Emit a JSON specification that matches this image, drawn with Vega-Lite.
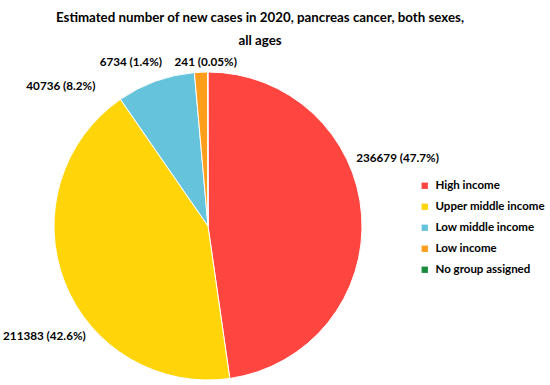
{
  "$schema": "https://vega.github.io/schema/vega-lite/v6.json",
  "width": 416,
  "height": 308,
  "autosize": "none",
  "padding": {"left": 0, "top": 72, "right": 134, "bottom": 5},
  "background": "white",
  "title": {
    "text": ["Estimated number of new cases in 2020, pancreas cancer, both sexes,", "all ages"],
    "font": "Lato",
    "fontSize": 13.3,
    "fontWeight": "bold",
    "color": "#000000",
    "anchor": "middle",
    "frame": "group",
    "dx": 52,
    "offset": 0,
    "dy": 61,
    "lineHeight": 23
  },
  "data": {
    "values": [
      {"group": "High income", "cases": 236679, "label": "236679 (47.7%)", "order": 1},
      {"group": "Upper middle income", "cases": 211383, "label": "211383 (42.6%)", "order": 2},
      {"group": "Low middle income", "cases": 40736, "label": "40736 (8.2%)", "order": 3},
      {"group": "Low income", "cases": 6734, "label": "6734 (1.4%)", "order": 4},
      {"group": "No group assigned", "cases": 241, "label": "241 (0.05%)", "order": 5}
    ]
  },
  "encoding": {
    "theta": {"field": "cases", "type": "quantitative", "stack": true},
    "order": {"field": "order", "type": "quantitative"}
  },
  "layer": [
    {
      "mark": {"type": "arc", "outerRadius": 154, "stroke": "white", "strokeWidth": 1},
      "encoding": {
        "color": {
          "field": "group",
          "type": "nominal",
          "scale": {
            "domain": ["High income", "Upper middle income", "Low middle income", "Low income", "No group assigned"],
            "range": ["#FF4540", "#FFD50A", "#66C3DC", "#FF9E1B", "#1A8A3C"]
          },
          "legend": {
            "title": null,
            "orient": "none",
            "legendX": 419,
            "legendY": 108,
            "padding": 0,
            "symbolType": "square",
            "symbolSize": 40,
            "symbolStrokeWidth": 0,
            "labelFont": "Lato",
            "labelFontSize": 11.5,
            "labelFontWeight": "bold",
            "labelColor": "#000000",
            "labelOffset": 5,
            "rowPadding": 8
          }
        }
      }
    },
    {
      "mark": {"type": "text", "radius": 180, "font": "Lato", "fontSize": 11.7, "fontWeight": "bold", "color": "#000000", "dx": 10, "dy": -55},
      "encoding": {"text": {"condition": {"test": "datum.group === 'High income'", "field": "label"}, "value": ""}}
    },
    {
      "mark": {"type": "text", "radius": 180, "font": "Lato", "fontSize": 11.7, "fontWeight": "bold", "color": "#000000", "dx": 4, "dy": 44},
      "encoding": {"text": {"condition": {"test": "datum.group === 'Upper middle income'", "field": "label"}, "value": ""}}
    },
    {
      "mark": {"type": "text", "radius": 180, "font": "Lato", "fontSize": 11.7, "fontWeight": "bold", "color": "#000000", "dx": -86, "dy": 29},
      "encoding": {"text": {"condition": {"test": "datum.group === 'Low middle income'", "field": "label"}, "value": ""}}
    },
    {
      "mark": {"type": "text", "radius": 180, "font": "Lato", "fontSize": 11.7, "fontWeight": "bold", "color": "#000000", "dx": -69, "dy": 16},
      "encoding": {"text": {"condition": {"test": "datum.group === 'Low income'", "field": "label"}, "value": ""}}
    },
    {
      "mark": {"type": "text", "radius": 180, "font": "Lato", "fontSize": 11.7, "fontWeight": "bold", "color": "#000000", "dx": -2, "dy": 16},
      "encoding": {"text": {"condition": {"test": "datum.group === 'No group assigned'", "field": "label"}, "value": ""}}
    }
  ],
  "config": {"view": {"stroke": null}}
}
